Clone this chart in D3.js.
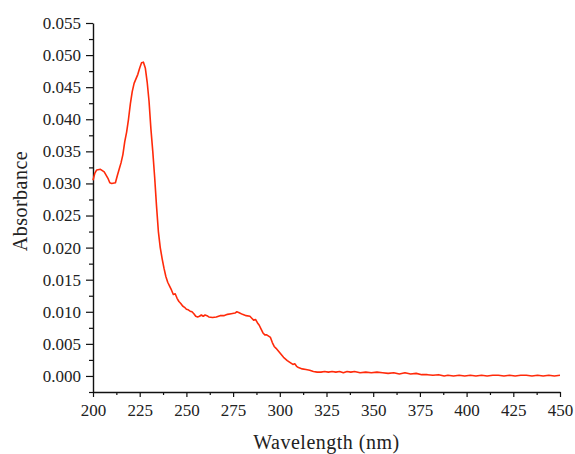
<!DOCTYPE html>
<html lang="en">
  <head>
    <meta charset="UTF-8" />
    <title>Absorbance spectrum</title>
    <style>
      body { margin: 0; background: #fff; }
    </style>
  </head>
  <body>
    <script src="https://d3js.org/d3.v7.min.js"></script>
    <script>
      // Values
      const wavelengths = [
        200, 201, 202, 204, 206, 208, 209, 210, 212, 213, 214, 215, 216, 217, 218, 219,
        220, 221, 222, 223, 224, 225, 226, 227, 228, 229, 230, 231, 232, 233, 234, 235,
        236, 237, 238, 239, 240, 241, 242, 243, 244, 245, 246, 247, 248, 249, 250, 251,
        252, 253, 254, 255, 256, 257, 258, 259, 260, 261, 262, 264, 266, 268, 270, 272,
        274, 276, 277, 278, 280, 282, 284, 285, 286, 287, 288, 289, 290, 291, 292, 293,
        294, 295, 296, 297, 298, 300, 302, 304, 306, 307, 308, 309, 310, 312, 314, 316,
        318, 320, 322, 324, 326, 328, 330, 332, 334, 336, 338, 340, 343, 346, 349, 352,
        355, 358, 361, 364, 367, 370, 373, 376, 379, 382, 385, 388, 390, 393, 396, 399,
        402, 405, 408, 411, 414, 417, 420, 423, 426, 429, 432, 435, 438, 441, 444, 447, 450
      ];
      const absorbance = [
        0.0305, 0.0316, 0.0321, 0.0322, 0.0318, 0.0308, 0.0301, 0.0300, 0.0301, 0.0312, 0.0322, 0.0332, 0.0345, 0.0365, 0.0380, 0.0400,
        0.0424, 0.0443, 0.0456, 0.0463, 0.0470, 0.0480, 0.0488, 0.0489, 0.0480, 0.0458, 0.0428, 0.0385, 0.0350, 0.0310, 0.0265, 0.0225,
        0.0200, 0.0183, 0.0168, 0.0155, 0.0146, 0.0140, 0.0134, 0.0127, 0.0128, 0.0121, 0.0116, 0.0113, 0.0109, 0.0107, 0.0104, 0.0103,
        0.0101, 0.0100, 0.0097, 0.0093, 0.0092, 0.0093, 0.0095, 0.0093, 0.0095, 0.0094, 0.0092, 0.0091, 0.0092, 0.0094, 0.0094, 0.0096,
        0.0097, 0.0098, 0.0100, 0.0099, 0.0096, 0.0094, 0.0093, 0.0090, 0.0087, 0.0088, 0.0083, 0.0079, 0.0073, 0.0067, 0.0064, 0.0064,
        0.0062, 0.0060, 0.0052, 0.0046, 0.0043, 0.0036, 0.0029, 0.0024, 0.0020, 0.0018, 0.0019, 0.0015, 0.0013, 0.0011, 0.0010, 0.0009,
        0.0007, 0.0006, 0.0006, 0.0007, 0.0006, 0.0007, 0.0006, 0.0007, 0.0005, 0.0007, 0.0006, 0.0007, 0.0005, 0.0006, 0.0005, 0.0006,
        0.0005, 0.0004, 0.0005, 0.0003, 0.0005, 0.0003, 0.0004, 0.0002, 0.0002, 0.0001, 0.0002, 0.0000, 0.0001, 0.0000, 0.0001, 0.0000,
        0.0001, 0.0000, 0.0001, 0.0000, 0.0001, 0.0001, 0.0000, 0.0001, 0.0000, 0.0001, 0.0001, 0.0000, 0.0001, 0.0000, 0.0001, 0.0000, 0.0001
      ];
      const xTicks = [200, 225, 250, 275, 300, 325, 350, 375, 400, 425, 450];
      const yTicks = [0, 0.005, 0.01, 0.015, 0.02, 0.025, 0.03, 0.035, 0.04, 0.045, 0.05, 0.055];

      const serif = "'Liberation Serif', 'DejaVu Serif', serif";

      const width = 575;
      const height = 454;
      const margin = { top: 23, right: 15, bottom: 62, left: 93 };
      const innerWidth = width - margin.left - margin.right;
      const innerHeight = height - margin.top - margin.bottom;

      const svg = d3.select('body').append('svg')
        .attr('width', width)
        .attr('height', height);
      const g = svg.append('g')
        .attr('transform', `translate(${margin.left},${margin.top})`);

      const xScale = d3.scaleLinear().domain([200, 450]).range([0, innerWidth]);
      const yScale = d3.scaleLinear().domain([-0.0025, 0.055]).range([innerHeight, 0]);

      // minor ticks first (no labels), then the labelled axes on top
      const xMinor = xTicks.slice(0, -1).map((d) => d + 12.5);
      const yMinor = yTicks.map((d) => d - 0.0025);

      g.append('g')
        .attr('transform', `translate(0,${innerHeight})`)
        .call(d3.axisBottom(xScale).tickValues(xMinor).tickSize(3))
        .call((a) => a.select('.domain').remove())
        .call((a) => a.selectAll('text').remove());
      g.append('g')
        .call(d3.axisLeft(yScale).tickValues(yMinor).tickSize(4))
        .call((a) => a.select('.domain').remove())
        .call((a) => a.selectAll('text').remove());

      const xAxis = g.append('g')
        .attr('transform', `translate(0,${innerHeight})`)
        .call(d3.axisBottom(xScale).tickValues(xTicks).tickSize(5).tickSizeOuter(0).tickPadding(6).tickFormat(d3.format('d')));
      const yAxis = g.append('g')
        .call(d3.axisLeft(yScale).tickValues(yTicks).tickSize(7).tickSizeOuter(0).tickPadding(5).tickFormat(d3.format('.3f')));

      g.selectAll('.domain').attr('stroke', '#111').attr('stroke-width', 1.4);
      g.selectAll('.tick line').attr('stroke', '#111').attr('stroke-width', 1.2);
      g.selectAll('.tick text')
        .attr('font-family', serif)
        .attr('font-size', 17)
        .attr('fill', '#222');
      xAxis.selectAll('.tick text').attr('dy', '0.75em');

      const line = d3.line()
        .x((d, i) => xScale(wavelengths[i]))
        .y((d) => yScale(d));

      g.append('path')
        .datum(absorbance)
        .attr('fill', 'none')
        .attr('stroke', '#ff2a0a')
        .attr('stroke-width', 1.6)
        .attr('stroke-linejoin', 'round')
        .attr('d', line);

      // axis titles
      svg.append('text')
        .attr('font-family', serif)
        .attr('font-size', 20)
        .attr('letter-spacing', 0.5)
        .attr('fill', '#222')
        .attr('text-anchor', 'middle')
        .attr('transform', `translate(27,201) rotate(-90)`)
        .text('Absorbance');

      svg.append('text')
        .attr('font-family', serif)
        .attr('font-size', 20)
        .attr('letter-spacing', 0.5)
        .attr('fill', '#222')
        .attr('text-anchor', 'middle')
        .attr('x', margin.left + innerWidth / 2)
        .attr('y', 449)
        .text('Wavelength (nm)');
    </script>
  </body>
</html>
